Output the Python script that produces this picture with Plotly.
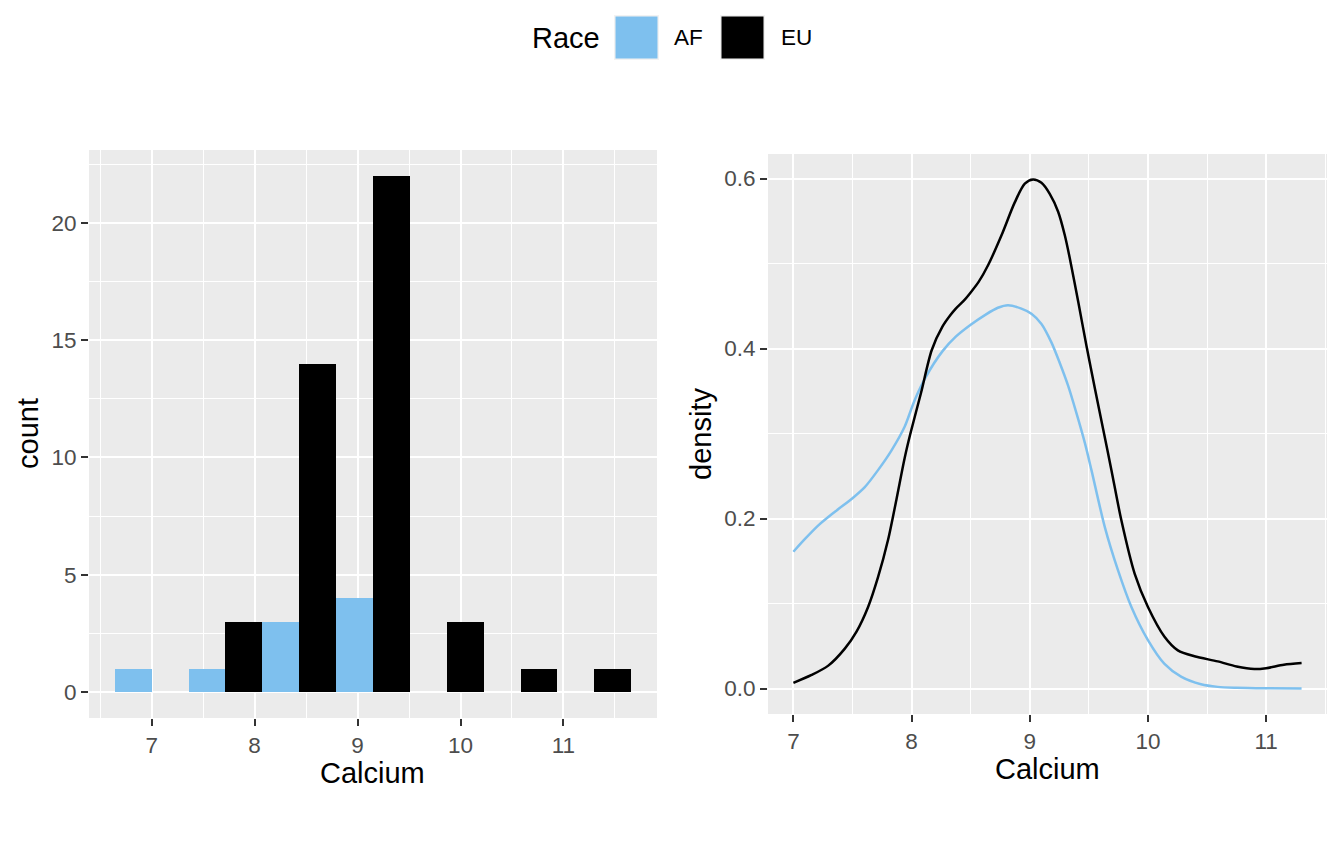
import plotly.graph_objects as go

# ---- data ----
race = ["AF", "EU"]
colors = {"AF": "#7EC0EE", "EU": "#000000"}

bin_centers = [7.0, 7.717, 8.433, 9.15, 9.867, 10.583, 11.3]
bin_width = 0.7167
count_af = [1, 1, 3, 4, 0, 0, 0]
count_eu = [0, 3, 14, 22, 3, 1, 1]

dens_af_x = [7.0, 7.098, 7.211, 7.351, 7.5, 7.604, 7.716, 7.829, 7.941, 8.025, 8.122,
             8.262, 8.374, 8.5, 8.627, 8.73, 8.816, 8.929, 9.014, 9.099, 9.184, 9.254,
             9.325, 9.395, 9.466, 9.522, 9.635, 9.747, 9.86, 10.0, 10.14, 10.28, 10.449,
             10.59, 10.75, 11.0, 11.3]
dens_af_y = [0.161, 0.176, 0.192, 0.208, 0.224, 0.237, 0.257, 0.280, 0.308, 0.339, 0.367,
             0.397, 0.414, 0.428, 0.440, 0.448, 0.451, 0.447, 0.441, 0.429, 0.407, 0.383,
             0.356, 0.324, 0.289, 0.257, 0.190, 0.139, 0.096, 0.057, 0.029, 0.014, 0.005,
             0.002, 0.001, 0.0004, 0.0001]

dens_eu_x = [7.0, 7.154, 7.295, 7.435, 7.534, 7.632, 7.716, 7.801, 7.871, 7.941, 7.99,
             8.08, 8.17, 8.262, 8.332, 8.374, 8.44, 8.5, 8.57, 8.647, 8.76, 8.873, 8.958, 9.028,
             9.099, 9.169, 9.24, 9.297, 9.339, 9.41, 9.48, 9.551, 9.621, 9.691, 9.775,
             9.888, 10.0, 10.14, 10.253, 10.393, 10.59, 10.75, 10.9, 11.0, 11.15, 11.3]
dens_eu_y = [0.0067, 0.016, 0.027, 0.047, 0.067, 0.096, 0.131, 0.175, 0.222, 0.271, 0.300,
             0.348, 0.398, 0.426, 0.440, 0.447, 0.456, 0.466, 0.479, 0.498, 0.533, 0.572, 0.594, 0.599,
             0.595, 0.582, 0.561, 0.533, 0.506, 0.455, 0.403, 0.353, 0.305, 0.257, 0.198,
             0.135, 0.096, 0.061, 0.045, 0.038, 0.032, 0.026, 0.023, 0.024, 0.028, 0.030]

left_xticks = [7, 8, 9, 10, 11]
left_yticks = [0, 5, 10, 15, 20]
right_xticks = [7, 8, 9, 10, 11]
right_yticks = [0.0, 0.2, 0.4, 0.6]

OFF = 8  # browser body margin
W, H = 1344 - OFF, 864 - OFF
FONT = "Liberation Sans, Arial, Helvetica, sans-serif"
TICK_COLOR = "#4D4D4D"

fig = go.Figure()

# histogram bars (dodged)
fig.add_trace(go.Bar(x=bin_centers, y=count_af, width=bin_width / 2, offset=-bin_width / 2,
                     marker=dict(color=colors["AF"], line=dict(width=0)),
                     xaxis="x", yaxis="y", showlegend=False, name="AF"))
fig.add_trace(go.Bar(x=bin_centers, y=count_eu, width=bin_width / 2, offset=0,
                     marker=dict(color=colors["EU"], line=dict(width=0)),
                     xaxis="x", yaxis="y", showlegend=False, name="EU"))

# density curves
fig.add_trace(go.Scatter(x=dens_af_x, y=dens_af_y, mode="lines",
                         line=dict(color=colors["AF"], width=2.5, shape="spline", smoothing=0.8),
                         xaxis="x2", yaxis="y2", showlegend=False, name="AF"))
fig.add_trace(go.Scatter(x=dens_eu_x, y=dens_eu_y, mode="lines",
                         line=dict(color=colors["EU"], width=2.5, shape="spline", smoothing=0.8),
                         xaxis="x2", yaxis="y2", showlegend=False, name="EU"))

def px_x(p):
    return (p - OFF) / W

def px_y(p):
    return 1 - (p - OFF) / H

axis_common = dict(
    showgrid=True, gridcolor="white", gridwidth=2,
    zeroline=False, showline=False,
    ticks="outside", ticklen=7, tickwidth=2, tickcolor="#333333",
    tickfont=dict(family=FONT, size=22.5, color=TICK_COLOR),
    automargin=False,
)

fig.update_layout(
    width=W, height=H,
    margin=dict(l=0, r=0, t=0, b=0),
    paper_bgcolor="white", plot_bgcolor="#EBEBEB",
    barmode="overlay", bargap=0,
    font=dict(family=FONT),
    xaxis=dict(domain=[px_x(89), px_x(657)], range=[6.391, 11.909], anchor="y",
               tickvals=left_xticks, ticktext=[str(v) for v in left_xticks],
               minor=dict(dtick=0.5, tick0=6.5, showgrid=True, gridcolor="white", gridwidth=1, ticks=""),
               **axis_common),
    yaxis=dict(domain=[px_y(718), px_y(150)], range=[-1.1, 23.1], anchor="x",
               tickvals=left_yticks, ticktext=[str(v) for v in left_yticks],
               minor=dict(dtick=2.5, tick0=0, showgrid=True, gridcolor="white", gridwidth=1, ticks=""),
               **axis_common),
    xaxis2=dict(domain=[px_x(768), px_x(1327)], range=[6.785, 11.515], anchor="y2",
                tickvals=right_xticks, ticktext=[str(v) for v in right_xticks],
                minor=dict(dtick=0.5, tick0=6.5, showgrid=True, gridcolor="white", gridwidth=1, ticks=""),
                **axis_common),
    yaxis2=dict(domain=[px_y(714), px_y(154)], range=[-0.0299, 0.6289], anchor="x2",
                tickvals=right_yticks, ticktext=[f"{v:.1f}" for v in right_yticks],
                minor=dict(dtick=0.1, tick0=0, showgrid=True, gridcolor="white", gridwidth=1, ticks=""),
                **axis_common),
)

# axis titles and legend text
title_font = dict(family=FONT, size=29, color="black")
label_font = dict(family=FONT, size=22.5, color="black")
annots = [
    dict(text="Calcium", x=px_x(373), y=px_y(773), xref="paper", yref="paper",
         showarrow=False, font=title_font, xanchor="center", yanchor="middle"),
    dict(text="Calcium", x=px_x(1047.5), y=px_y(769), xref="paper", yref="paper",
         showarrow=False, font=title_font, xanchor="center", yanchor="middle"),
    dict(text="count", x=px_x(28), y=px_y(434), xref="paper", yref="paper", textangle=-90,
         showarrow=False, font=title_font, xanchor="center", yanchor="middle"),
    dict(text="density", x=px_x(701), y=px_y(434), xref="paper", yref="paper", textangle=-90,
         showarrow=False, font=title_font, xanchor="center", yanchor="middle"),
    dict(text="Race", x=px_x(530), y=px_y(38), xref="paper", yref="paper",
         showarrow=False, font=title_font, xanchor="left", yanchor="middle"),
    dict(text="AF", x=px_x(672), y=px_y(38), xref="paper", yref="paper",
         showarrow=False, font=label_font, xanchor="left", yanchor="middle"),
    dict(text="EU", x=px_x(779), y=px_y(38), xref="paper", yref="paper",
         showarrow=False, font=label_font, xanchor="left", yanchor="middle"),
]
fig.update_layout(annotations=annots)

shapes = []
for x0, key in [(614, "AF"), (720, "EU")]:
    shapes.append(dict(type="rect", xref="paper", yref="paper",
                       x0=px_x(x0), x1=px_x(x0 + 45), y0=px_y(60), y1=px_y(15),
                       fillcolor="#F2F2F2", line=dict(width=0), layer="above"))
    shapes.append(dict(type="rect", xref="paper", yref="paper",
                       x0=px_x(x0 + 1.5), x1=px_x(x0 + 43.5), y0=px_y(58.5), y1=px_y(16.5),
                       fillcolor=colors[key], line=dict(width=0), layer="above"))
fig.update_layout(shapes=shapes)

fig.write_html("out.html")
